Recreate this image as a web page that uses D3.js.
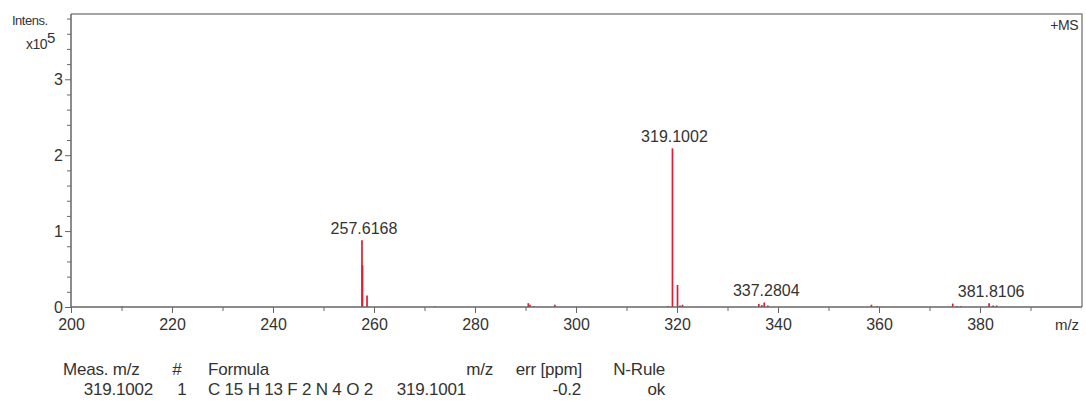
<!DOCTYPE html>
<html><head><meta charset="utf-8">
<script src="https://cdn.jsdelivr.net/npm/d3@7"></script>
<style>body{margin:0;background:#fff;} text{font-family:"Liberation Sans",Arial,sans-serif;}</style>
</head><body><svg id="c" width="1086" height="403"></svg>
<script>
const peakMz  = [210.1, 257.62, 257.72, 258.62, 272.1, 290.55, 290.9, 291.6, 295.8, 318.2, 319.10, 320.10, 320.6, 321.1, 336.2, 336.8, 337.28, 338.0, 358.5, 359.6, 374.6, 375.4, 376.2, 381.81, 382.6, 383.3];
const peakInt = [0.005, 0.88, 0.55, 0.15, 0.005, 0.05, 0.03, 0.01, 0.03, 0.012, 2.09, 0.29, 0.02, 0.03, 0.04, 0.025, 0.06, 0.02, 0.03, 0.01, 0.045, 0.012, 0.012, 0.05, 0.02, 0.02];
const labelMz = [257.62, 319.10, 337.28, 381.81];
const labelInt = [0.88, 2.09, 0.06, 0.05];
const labelText = ["257.6168", "319.1002", "337.2804", "381.8106"];
const xTicks = [200, 220, 240, 260, 280, 300, 320, 340, 360, 380];
const yTicks = [0, 1, 2, 3];
const tableHeader = ["Meas. m/z", "#", "Formula", "m/z", "err [ppm]", "N-Rule"];
const tableRow = ["319.1002", "1", "C 15 H 13 F 2 N 4 O 2", "319.1001", "-0.2", "ok"];

const svg = d3.select("#c");
const L = 71, R = 1082, T = 14, B = 307;
const x = d3.scaleLinear().domain([200, 400]).range([L, R - 1]);
const y = d3.scaleLinear().domain([0, 3.86]).range([B, T]);
const axisCol = "#666", txt = "#333";
const FF = "Liberation Sans, Arial, sans-serif";

// frame
svg.append("path").attr("d", `M${L},${T}H${R}V${B}`).attr("fill", "none").attr("stroke", "#888").attr("stroke-width", 1.5);

// peaks
svg.append("g").selectAll("line").data(peakMz).join("line")
  .attr("x1", d => x(d)).attr("x2", d => x(d))
  .attr("y1", y(0)).attr("y2", (d, i) => y(peakInt[i]))
  .attr("stroke", "#e8192f").attr("stroke-width", 1.7);

// x axis
const xa = svg.append("g").attr("transform", `translate(0,${B})`);
xa.call(d3.axisBottom(x).tickValues(d3.range(210, 400, 20)).tickSize(4).tickFormat(""));
xa.call(g => g.select(".domain").remove());
const xa2 = svg.append("g").attr("transform", `translate(0,${B})`);
xa2.call(d3.axisBottom(x).tickValues(xTicks).tickSize(6).tickPadding(6).tickFormat(d3.format("d")));
xa.selectAll("line").attr("stroke", axisCol);
xa2.selectAll("line").attr("stroke", axisCol);
xa2.select(".domain").attr("stroke", axisCol).attr("stroke-width", 1.5).attr("d", `M${L},0H${R}`);
xa2.selectAll("text").attr("font-size", 16).attr("fill", txt).attr("font-family", FF);
svg.append("text").attr("x", 1067).attr("y", 330).attr("text-anchor", "middle").attr("font-size", 15).attr("fill", txt).text("m/z");

// y axis
const ya = svg.append("g").attr("transform", `translate(${L},0)`);
ya.call(d3.axisLeft(y).tickValues(d3.range(0.2, 3.85, 0.2).filter(v => Math.abs(v - Math.round(v)) > 0.01)).tickSize(4).tickFormat(""));
ya.call(g => g.select(".domain").remove());
ya.selectAll("line").attr("stroke", axisCol);
const ya2 = svg.append("g").attr("transform", `translate(${L},0)`);
ya2.call(d3.axisLeft(y).tickValues(yTicks).tickSize(6).tickPadding(2).tickFormat(d3.format("d")));
ya2.selectAll("line").attr("stroke", axisCol);
ya2.select(".domain").attr("stroke", axisCol).attr("stroke-width", 1.5).attr("d", `M0,${B}V${T}`);
ya2.selectAll("text").attr("font-size", 16).attr("fill", txt).attr("font-family", FF);

// axis title
svg.append("text").attr("x", 12).attr("y", 25).attr("font-size", 13).attr("fill", txt).attr("letter-spacing", -0.5).text("Intens.");
const t2 = svg.append("text").attr("x", 26).attr("y", 49).attr("font-size", 14).attr("fill", txt).attr("letter-spacing", -0.5);
t2.append("tspan").text("x10");
t2.append("tspan").attr("dy", -6).attr("font-size", 15).text("5");
svg.append("text").attr("x", 1078).attr("y", 30).attr("text-anchor", "end").attr("font-size", 14).attr("fill", txt).attr("letter-spacing", -0.5).text("+MS");

// peak labels
svg.append("g").selectAll("text").data(labelMz).join("text")
  .attr("x", d => x(d) + 2).attr("y", (d, i) => y(labelInt[i]) - 6)
  .attr("text-anchor", "middle").attr("font-size", 16).attr("fill", txt)
  .text((d, i) => labelText[i]);

// table
const colX = [63, 177, 208, 493, 582, 665];
const colAnchor = ["start", "middle", "start", "end", "end", "end"];
const rowX = [153, 182, 208, 466, 581, 665];
const rowAnchor = ["end", "middle", "start", "end", "end", "end"];
svg.append("g").selectAll("text").data(tableHeader).join("text")
  .attr("x", (d, i) => colX[i]).attr("y", 375).attr("text-anchor", (d, i) => colAnchor[i])
  .attr("font-size", 17).attr("fill", txt).attr("letter-spacing", -0.2).text(d => d);
svg.append("g").selectAll("text").data(tableRow).join("text")
  .attr("x", (d, i) => rowX[i]).attr("y", 395).attr("text-anchor", (d, i) => rowAnchor[i])
  .attr("font-size", 17).attr("fill", txt).attr("letter-spacing", -0.2).text(d => d);
</script></body></html>
